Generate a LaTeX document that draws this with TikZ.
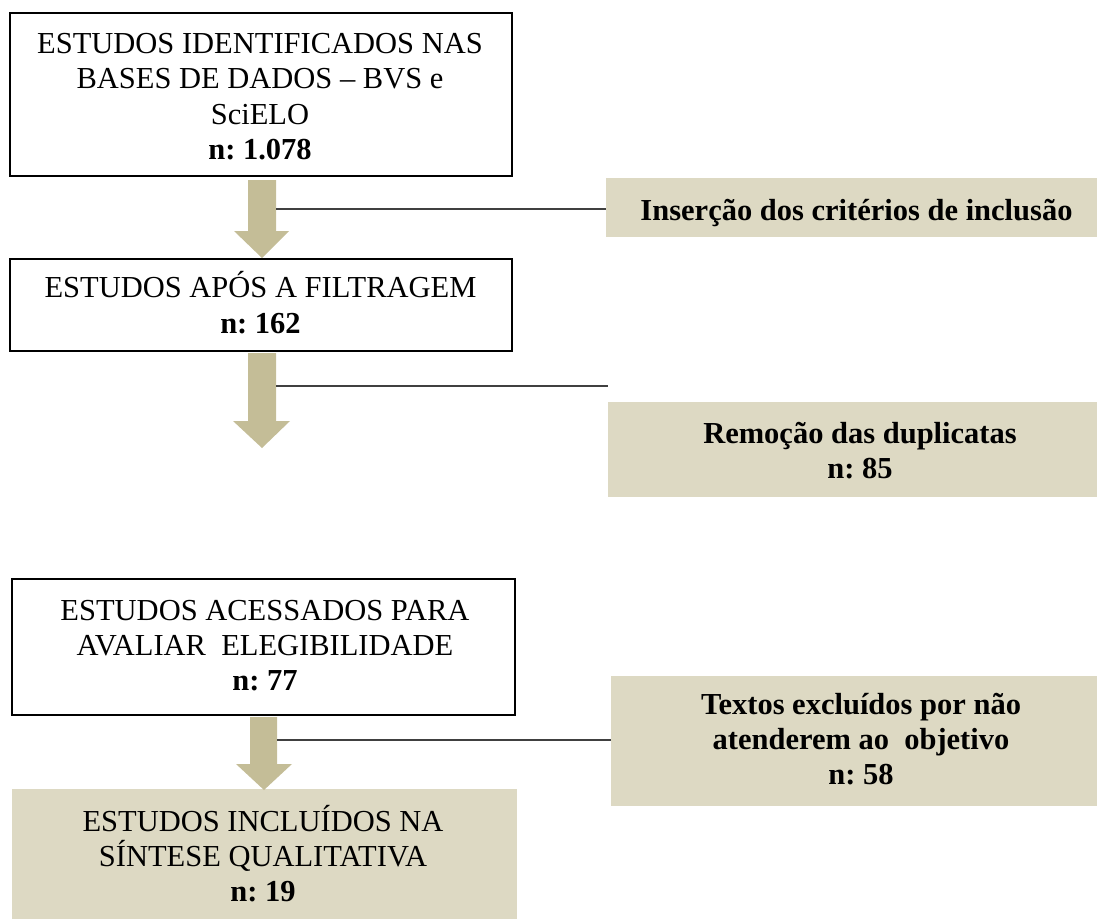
\documentclass[tikz,border=0pt]{standalone}
\usepackage{fontspec}
\setmainfont{Liberation Serif}
\frenchspacing
\definecolor{tanfill}{HTML}{DDD9C3}
\definecolor{arrowfill}{HTML}{C4BD97}
\definecolor{linegray}{HTML}{404040}
\begin{document}
\begin{tikzpicture}[x=1pt,y=-1pt,
  whitebox/.style={draw=black,line width=1.5pt,fill=white,inner sep=0pt,rectangle},
  tanbox/.style={fill=tanfill,draw=none,inner sep=0pt,rectangle},
  ln/.style={anchor=base,inner sep=0pt,font=\fontsize{30.5}{35}\selectfont},
  lnb/.style={ln,font=\fontsize{30.5}{35}\selectfont\bfseries},
  bigarrow/.style={fill=arrowfill,draw=none},
  side/.style={draw=linegray,line width=1.8pt}]
\useasboundingbox (0,0) rectangle (1097,918);

% boxes
\node[whitebox,minimum width=502pt,minimum height=163pt] (b1) at (261,94.5) {};
\node[whitebox,minimum width=502pt,minimum height=92pt] (b2) at (261,305) {};
\node[whitebox,minimum width=503pt,minimum height=136pt] (b3) at (263.5,647) {};
\node[tanbox,minimum width=505pt,minimum height=141pt] (b4) at (264.5,859.5) {};
\node[tanbox,minimum width=501pt,minimum height=59pt] (g1) at (856.5,207.5) {};
\node[tanbox,minimum width=500pt,minimum height=95pt] (g2) at (858,449.5) {};
\node[tanbox,minimum width=500pt,minimum height=130pt] (g3) at (861,741) {};

% texts
\node[ln] (t1a) at (260,53) {ESTUDOS IDENTIFICADOS NAS};
\node[ln] (t1b) at (260,88.5) {BASES DE DADOS – BVS e};
\node[ln] (t1c) at (260,124) {SciELO};
\node[lnb] (t1d) at (260,159) {n: 1.078};

\node[ln] (t2a) at (260.5,297) {ESTUDOS APÓS A FILTRAGEM};
\node[lnb] (t2b) at (260.5,333) {n: 162};

\node[ln] (t3a) at (265,620) {ESTUDOS ACESSADOS PARA};
\node[ln] (t3b) at (265,655) {AVALIAR~ ELEGIBILIDADE};
\node[lnb] (t3c) at (265,690) {n: 77};

\node[ln] (t4a) at (263,831) {ESTUDOS INCLUÍDOS NA};
\node[ln] (t4b) at (263,866) {SÍNTESE QUALITATIVA};
\node[lnb] (t4c) at (263,901) {n: 19};

\node[lnb] (s1) at (856.5,220) {Inserção dos critérios de inclusão};
\node[lnb] (s2a) at (860,443) {Remoção das duplicatas};
\node[lnb] (s2b) at (860,478) {n: 85};
\node[lnb] (s3a) at (861,714) {Textos excluídos por não};
\node[lnb] (s3b) at (861,749) {atenderem ao~ objetivo};
\node[lnb] (s3c) at (861,784) {n: 58};

% block arrows
\fill[bigarrow] (248,180) -- (276,180) -- (276,231) -- (289,231) -- (262,258) -- (234,231) -- (248,231) -- cycle;
\fill[bigarrow] (248,353) -- (276,353) -- (276,421) -- (290,421) -- (262,448) -- (233,421) -- (248,421) -- cycle;
\fill[bigarrow] (250,717) -- (277,717) -- (277,764) -- (292,764) -- (264,790) -- (236,764) -- (250,764) -- cycle;

% side connectors
\coordinate (c1) at (276,209);
\coordinate (c2) at (276,386);
\coordinate (c3) at (277,740);
\draw[side] (c1) -- (c1 -| g1.west);
\draw[side] (c2) -- (c2 -| g2.west);
\draw[side] (c3) -- (c3 -| g3.west);
\end{tikzpicture}
\end{document}
